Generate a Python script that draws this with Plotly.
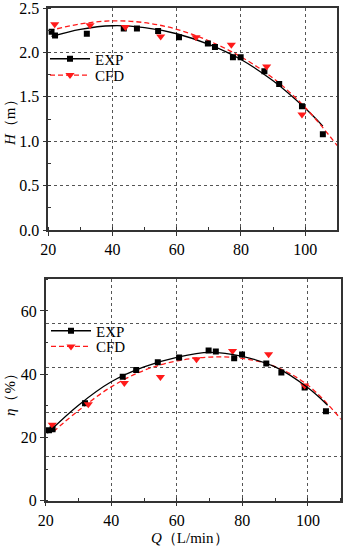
import plotly.graph_objects as go

# ---------------- data ----------------
Q_exp = [21.0, 22.1, 32.0, 43.5, 47.6, 54.2, 60.7, 69.7, 71.9, 77.5, 79.9, 87.3, 91.9, 99.0, 105.5]
H_exp = [2.233, 2.19, 2.21, 2.27, 2.27, 2.24, 2.17, 2.10, 2.06, 1.945, 1.945, 1.787, 1.644, 1.393, 1.078]
Q_cfd = [22.0, 33.0, 44.0, 55.0, 66.0, 77.0, 88.0, 99.0]
H_cfd = [2.316, 2.305, 2.286, 2.18, 2.17, 2.087, 1.84, 1.30]

eta_exp = [22.3, 22.6, 30.8, 39.2, 41.3, 43.8, 45.3, 47.5, 47.2, 45.0, 46.2, 43.4, 40.5, 35.8, 28.3]
eta_cfd = [24.0, 30.5, 37.2, 39.1, 44.7, 47.3, 46.3, 36.4]

# fitted curves
Qf_H_exp = [21, 30, 40, 50, 60, 70, 80, 90, 100, 105.5]
Hf_exp = [2.18, 2.26, 2.30, 2.28, 2.21, 2.09, 1.92, 1.68, 1.37, 1.17]
Qf_H_cfd = [20.3, 30, 40, 50, 60, 70, 80, 90, 100, 110]
Hf_cfd = [2.245, 2.32, 2.355, 2.335, 2.26, 2.13, 1.95, 1.71, 1.38, 0.95]

Qf_e_exp = [20.5, 30, 40, 50, 60, 70, 80, 90, 100, 106]
ef_exp = [21.3, 30.2, 37.6, 42.3, 45.3, 46.9, 45.6, 42.3, 35.7, 30.2]
Qf_e_cfd = [22.3, 30, 40, 50, 60, 70, 80, 90, 100, 110.3]
ef_cfd = [21.8, 28.5, 36.0, 41.2, 44.2, 45.4, 45.0, 42.4, 36.5, 25.5]

x_ticks = [20, 40, 60, 80, 100]
H_ticks = [0.0, 0.5, 1.0, 1.5, 2.0, 2.5]
eta_ticks = [0, 20, 40, 60]
eta_grid = [14, 28, 42, 56]

FONT = "Liberation Serif, Times New Roman, serif"
RED = "#ff1a1a"
W, Hh = 347, 550

fig = go.Figure()

# ---- top chart ----
fig.add_trace(go.Scatter(x=Qf_H_exp, y=Hf_exp, mode="lines", line=dict(color="black", width=1.3, shape="spline"),
                         xaxis="x", yaxis="y", showlegend=False))
fig.add_trace(go.Scatter(x=Qf_H_cfd, y=Hf_cfd, mode="lines", line=dict(color=RED, width=1.3, dash="5px,3px", shape="spline"),
                         xaxis="x", yaxis="y", showlegend=False))
fig.add_trace(go.Scatter(x=Q_exp, y=H_exp, mode="markers", marker=dict(symbol="square", size=6, color="black"),
                         xaxis="x", yaxis="y", showlegend=False))
fig.add_trace(go.Scatter(x=Q_cfd, y=H_cfd, mode="markers", marker=dict(symbol="triangle-down", size=8, color=RED),
                         xaxis="x", yaxis="y", showlegend=False))
fig.add_trace(go.Scatter(x=[None], y=[None], mode="lines+markers", name="EXP",
                         line=dict(color="black", width=1.3), marker=dict(symbol="square", size=6, color="black"),
                         xaxis="x", yaxis="y", legend="legend"))
fig.add_trace(go.Scatter(x=[None], y=[None], mode="lines+markers", name="CFD",
                         line=dict(color=RED, width=1.3, dash="5px,3px"), marker=dict(symbol="triangle-down", size=8, color=RED),
                         xaxis="x", yaxis="y", legend="legend2"))

# ---- bottom chart ----
fig.add_trace(go.Scatter(x=Qf_e_exp, y=ef_exp, mode="lines", line=dict(color="black", width=1.3, shape="spline"),
                         xaxis="x2", yaxis="y3", showlegend=False))
fig.add_trace(go.Scatter(x=Qf_e_cfd, y=ef_cfd, mode="lines", line=dict(color=RED, width=1.3, dash="5px,3px", shape="spline"),
                         xaxis="x2", yaxis="y2", showlegend=False))
fig.add_trace(go.Scatter(x=Q_exp, y=eta_exp, mode="markers", marker=dict(symbol="square", size=6, color="black"),
                         xaxis="x2", yaxis="y2", showlegend=False))
fig.add_trace(go.Scatter(x=Q_cfd, y=eta_cfd, mode="markers", marker=dict(symbol="triangle-down", size=8, color=RED),
                         xaxis="x2", yaxis="y2", showlegend=False))
fig.add_trace(go.Scatter(x=[None], y=[None], mode="lines+markers", name="EXP",
                         line=dict(color="black", width=1.3), marker=dict(symbol="square", size=6, color="black"),
                         xaxis="x2", yaxis="y2", legend="legend3"))
fig.add_trace(go.Scatter(x=[None], y=[None], mode="lines+markers", name="CFD",
                         line=dict(color=RED, width=1.3, dash="5px,3px"), marker=dict(symbol="triangle-down", size=8, color=RED),
                         xaxis="x2", yaxis="y2", legend="legend4"))

tickfont = dict(family=FONT, size=16, color="black")
grid = dict(gridcolor="#555555", griddash="dot", gridwidth=1)
axline = dict(showline=True, linecolor="#333333", linewidth=1.5, mirror=True, automargin=False,
              ticklabeloverflow="allow",
              ticks="outside", ticklen=4, tickwidth=1, tickcolor="#333333", tickfont=tickfont, zeroline=False)

xdom1 = [48.3 / W, 337.3 / W]
ydom1 = [1 - 230 / Hh, 1 - 8 / Hh]
xdom2 = [45.7 / W, 340.7 / W]
ydom2 = [1 - 500.7 / Hh, 1 - 279.3 / Hh]


def leg(xpx, ypx):
    return dict(x=xpx / W, y=1 - ypx / Hh, xanchor="left", yanchor="middle", bgcolor="rgba(0,0,0,0)",
                font=dict(family=FONT, size=15, color="black"), itemwidth=40, tracegroupgap=0)


fig.update_layout(
    width=W, height=Hh, autosize=False,
    margin=dict(l=0, r=0, t=0, b=0, autoexpand=False),
    paper_bgcolor="white", plot_bgcolor="white",
    font=dict(family=FONT, size=16, color="black"),
    xaxis=dict(domain=xdom1, anchor="y", range=[20, 110], tickvals=x_ticks, showgrid=True, **grid, **axline,
               minor=dict(dtick=10, tick0=20, ticks="inside", ticklen=3, tickcolor="#333333", showgrid=False)),
    yaxis=dict(domain=ydom1, anchor="x", range=[0, 2.5], tickvals=H_ticks, tickformat=".1f", showgrid=True, **grid, **axline,
               minor=dict(dtick=0.25, ticks="inside", ticklen=3, tickcolor="#333333", showgrid=False)),
    xaxis2=dict(domain=xdom2, anchor="y2", range=[20, 110], tickvals=x_ticks, showgrid=True, **grid, **axline,
                minor=dict(dtick=10, tick0=20, ticks="inside", ticklen=3, tickcolor="#333333", showgrid=False)),
    yaxis2=dict(domain=ydom2, anchor="x2", range=[0, 70], tickvals=eta_ticks, showgrid=False, **axline,
                minor=dict(dtick=10, ticks="inside", ticklen=3, tickcolor="#333333", showgrid=False)),
    yaxis3=dict(domain=ydom2, anchor="x2", overlaying="y2", range=[0, 70], tickvals=eta_grid, automargin=False,
                showgrid=True, **grid, showticklabels=False, ticks="", showline=False, zeroline=False),
    legend=leg(45, 59),
    legend2=leg(45, 75.3),
    legend3=leg(46, 331),
    legend4=leg(46, 346.7),
    annotations=[
        dict(text="<i>H</i>（m）", x=10 / W, y=1 - 119 / Hh, xref="paper", yref="paper", textangle=-90,
             showarrow=False, font=dict(family=FONT, size=15, color="black"), xanchor="center", yanchor="middle"),
        dict(text="<i>η</i>（%）", x=10 / W, y=1 - 391 / Hh, xref="paper", yref="paper", textangle=-90,
             showarrow=False, font=dict(family=FONT, size=15, color="black"), xanchor="center", yanchor="middle"),
        dict(text="<i>Q</i>（L/min）", x=190 / W, y=1 - 538 / Hh, xref="paper", yref="paper",
             showarrow=False, font=dict(family=FONT, size=15, color="black"), xanchor="center", yanchor="middle"),
    ],
)

fig.write_html("out.html", config={"displayModeBar": False},
               post_script="document.body.style.margin='0px';")
